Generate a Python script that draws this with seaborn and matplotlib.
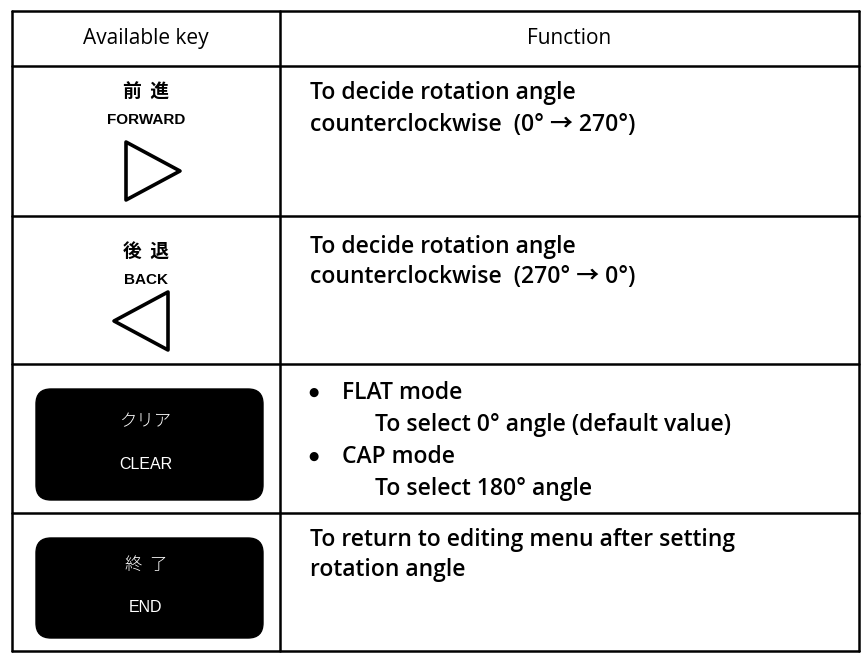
import matplotlib
matplotlib.use('Agg')
import matplotlib.pyplot as plt
import seaborn as sns
from matplotlib.patches import FancyBboxPatch, Polygon

# table content
headers = ["Available key", "Function"]
keys_jp = ["前  進", "後  退", "クリア", "終  了"]
keys_en = ["FORWARD", "BACK", "CLEAR", "END"]
key_kind = ["right", "left", "button", "button"]
functions = [
    ["To decide rotation angle", "counterclockwise  (0° → 270°)"],
    ["To decide rotation angle", "counterclockwise  (270° → 0°)"],
    ["FLAT mode", "To select 0° angle (default value)",
     "CAP mode", "To select 180° angle"],
    ["To return to editing menu after setting", "rotation angle"],
]
# indent level of each function line (0 plain, 1 bullet, 2 sub-line)
indents = [[0, 0], [0, 0], [1, 2, 1, 2], [0, 0]]

# layout (pixel space of the page)
row_edges = [11, 66, 216, 364, 513, 651]
col_edges = [12, 280, 859]

sns.set_theme(style="white")
plt.rcParams['font.family'] = ['Open Sans', 'Noto Sans CJK JP', 'DejaVu Sans']
plt.rcParams['text.color'] = 'black'

fig = plt.figure(figsize=(8.64, 6.54), dpi=100)
ax = fig.add_axes([0, 0, 1, 1])
ax.set_xlim(0, 864)
ax.set_ylim(654, 0)
ax.axis('off')

# grid
for y in row_edges:
    ax.plot([col_edges[0], col_edges[-1]], [y, y], color='black', lw=1.8)
for x in col_edges:
    ax.plot([x, x], [row_edges[0], row_edges[-1]], color='black', lw=1.8)

# header
kx = (col_edges[0] + col_edges[1]) / 2
fx = (col_edges[1] + col_edges[2]) / 2
hy = (row_edges[0] + row_edges[1]) / 2
ax.text(kx, hy, headers[0], ha='center', va='center', fontsize=15, fontweight='medium')
ax.text(fx, hy, headers[1], ha='center', va='center', fontsize=15, fontweight='medium')

indent_x = [310, 342, 375]
line_h = [32, 30, 32, 30]
first_y = [93, 247, 393, 540]
key_off = [26, 36]
for i in range(4):
    top, bot = row_edges[i + 1], row_edges[i + 2]
    if key_kind[i] == "button":
        bx0, bx1 = 36, 263
        by0, by1 = top + 25, bot - 13
        ax.add_patch(FancyBboxPatch((bx0 + 15, by0 + 15), bx1 - bx0 - 30, by1 - by0 - 30,
                                    boxstyle="round,pad=15", fc='black', ec='black'))
        my = (by0 + by1) / 2
        ax.text(kx, my - 23, keys_jp[i], ha='center', va='center', color='white',
                fontsize=12.5, fontweight='light', family=['Noto Sans CJK JP'])
        ax.text(kx, my + 20, keys_en[i], ha='center', va='center', color='white',
                fontsize=11.5, family=['Liberation Sans'])
    else:
        off = key_off[i]
        ax.text(kx, top + off, keys_jp[i], ha='center', va='center', fontsize=13.5,
                fontweight='bold', family=['Noto Sans CJK JP'])
        ax.text(kx, top + off + 28, keys_en[i], ha='center', va='center', fontsize=11,
                fontweight='bold', family=['Liberation Sans'])
        if key_kind[i] == "right":
            pts = [(126, top + 76), (180, top + 105), (126, top + 134)]
        else:
            pts = [(168, top + 76), (114, top + 105), (168, top + 134)]
        ax.add_patch(Polygon(pts, closed=True, fill=False, ec='black', lw=2.6,
                             joinstyle='round'))
    for j, line in enumerate(functions[i]):
        y = first_y[i] + j * line_h[i]
        lvl = indents[i][j]
        if lvl == 1:
            ax.text(indent_x[0] + 3, y - 1, "●", ha='center', va='center', fontsize=8.5,
                    family=['DejaVu Sans'])
        ax.text(indent_x[lvl], y, line, ha='left', va='center',
                fontsize=16.5, fontweight='semibold')

fig.savefig("out.png", dpi=100)
